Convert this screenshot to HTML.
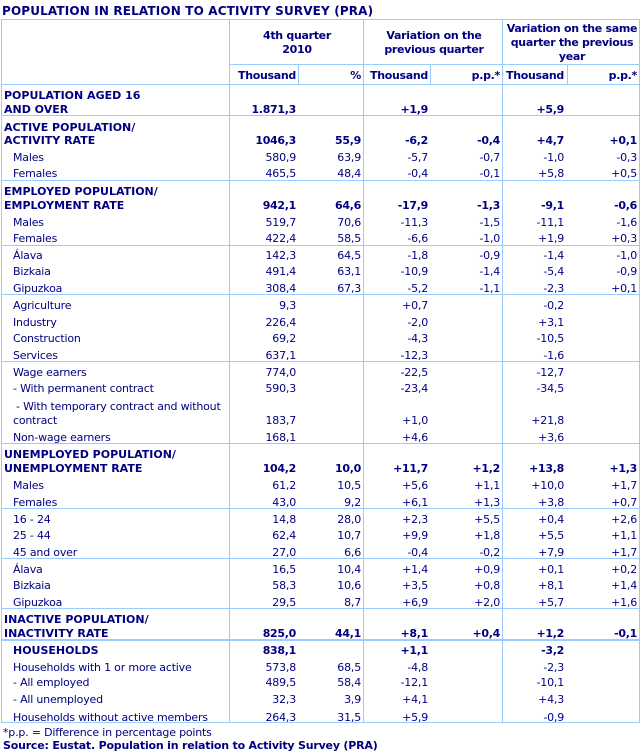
<!DOCTYPE html>
<html>
<head>
<meta charset="utf-8">
<style>
html,body{margin:0;padding:0;background:#fff;}
#c{position:relative;width:643px;height:754px;overflow:hidden;background:#fff;font-family:"DejaVu Sans",Verdana,"Liberation Sans",sans-serif;color:#000080;}
.h{position:absolute;height:1px;background:#99ccff;}
.v{position:absolute;width:1px;background:#99ccff;}
.t{position:absolute;white-space:nowrap;font-size:11px;line-height:13px;height:13px;letter-spacing:-0.2px;}
.b{font-weight:bold;letter-spacing:-0.3px;}
.bc{font-weight:bold;letter-spacing:0;}
.ctr{width:200px;text-align:center;}
.n{text-align:right;}
.c1{right:347px}.c2{right:282px}.c3{right:215px}.c4{right:143px}.c5{right:79px}.c6{right:6px}
.l0{left:4px}.l1{left:13px}
</style>
</head>
<body>
<div id="c">
<!-- title -->
<div class="t" style="left:2px;top:4px;font-size:12px;line-height:14px;height:14px;font-weight:bold;letter-spacing:0.15px;">POPULATION IN RELATION TO ACTIVITY SURVEY (PRA)</div>

<!-- grid lines -->
<div class="h" style="left:1px;width:639px;top:19px"></div>
<div class="h" style="left:229px;width:411px;top:64px"></div>
<div class="h" style="left:1px;width:639px;top:84px"></div>
<div class="h" style="left:1px;width:639px;top:115px"></div>
<div class="h" style="left:1px;width:639px;top:180px"></div>
<div class="h" style="left:1px;width:639px;top:245px"></div>
<div class="h" style="left:1px;width:639px;top:294px"></div>
<div class="h" style="left:1px;width:639px;top:361px"></div>
<div class="h" style="left:1px;width:639px;top:443px"></div>
<div class="h" style="left:1px;width:639px;top:508px"></div>
<div class="h" style="left:1px;width:639px;top:558px"></div>
<div class="h" style="left:1px;width:639px;top:608px"></div>
<div class="h" style="left:1px;width:639px;top:639px;height:2px"></div>
<div class="h" style="left:1px;width:639px;top:722px"></div>

<div class="v" style="left:1px;top:19px;height:704px"></div>
<div class="v" style="left:229px;top:19px;height:704px"></div>
<div class="v" style="left:363px;top:19px;height:704px"></div>
<div class="v" style="left:502px;top:19px;height:704px"></div>
<div class="v" style="left:639px;top:19px;height:704px"></div>
<div class="v" style="left:298px;top:64px;height:20px"></div>
<div class="v" style="left:430px;top:64px;height:20px"></div>
<div class="v" style="left:567px;top:64px;height:20px"></div>

<!-- header -->
<div class="t b ctr" style="left:197px;top:29px">4th quarter</div>
<div class="t b ctr" style="left:197px;top:43px">2010</div>
<div class="t b ctr" style="left:334px;top:29px">Variation on the</div>
<div class="t b ctr" style="left:334px;top:43px">previous quarter</div>
<div class="t b ctr" style="left:472px;top:22px">Variation on the same</div>
<div class="t b ctr" style="left:472px;top:36px">quarter the previous</div>
<div class="t b ctr" style="left:472px;top:50px">year</div>

<div class="t b n c1" style="top:69px">Thousand</div>
<div class="t b n c2" style="top:69px">%</div>
<div class="t b n c3" style="top:69px">Thousand</div>
<div class="t b n c4" style="top:69px">p.p.*</div>
<div class="t b n c5" style="top:69px">Thousand</div>
<div class="t b n c6" style="top:69px">p.p.*</div>

<!-- population 16+ -->
<div class="t bc l0" style="top:89px">POPULATION AGED 16</div>
<div class="t bc l0" style="top:103px">AND OVER</div>
<div class="t b n c1" style="top:103px">1.871,3</div>
<div class="t b n c3" style="top:103px">+1,9</div>
<div class="t b n c5" style="top:103px">+5,9</div>

<!-- active -->
<div class="t bc l0" style="top:121px">ACTIVE POPULATION/</div>
<div class="t bc l0" style="top:134px">ACTIVITY RATE</div>
<div class="t b n c1" style="top:134px">1046,3</div>
<div class="t b n c2" style="top:134px">55,9</div>
<div class="t b n c3" style="top:134px">-6,2</div>
<div class="t b n c4" style="top:134px">-0,4</div>
<div class="t b n c5" style="top:134px">+4,7</div>
<div class="t b n c6" style="top:134px">+0,1</div>

<div class="t l1" style="top:151px">Males</div>
<div class="t n c1" style="top:151px">580,9</div>
<div class="t n c2" style="top:151px">63,9</div>
<div class="t n c3" style="top:151px">-5,7</div>
<div class="t n c4" style="top:151px">-0,7</div>
<div class="t n c5" style="top:151px">-1,0</div>
<div class="t n c6" style="top:151px">-0,3</div>

<div class="t l1" style="top:167px">Females</div>
<div class="t n c1" style="top:167px">465,5</div>
<div class="t n c2" style="top:167px">48,4</div>
<div class="t n c3" style="top:167px">-0,4</div>
<div class="t n c4" style="top:167px">-0,1</div>
<div class="t n c5" style="top:167px">+5,8</div>
<div class="t n c6" style="top:167px">+0,5</div>

<!-- employed -->
<div class="t bc l0" style="top:185px">EMPLOYED POPULATION/</div>
<div class="t bc l0" style="top:199px">EMPLOYMENT RATE</div>
<div class="t b n c1" style="top:199px">942,1</div>
<div class="t b n c2" style="top:199px">64,6</div>
<div class="t b n c3" style="top:199px">-17,9</div>
<div class="t b n c4" style="top:199px">-1,3</div>
<div class="t b n c5" style="top:199px">-9,1</div>
<div class="t b n c6" style="top:199px">-0,6</div>

<div class="t l1" style="top:216px">Males</div>
<div class="t n c1" style="top:216px">519,7</div>
<div class="t n c2" style="top:216px">70,6</div>
<div class="t n c3" style="top:216px">-11,3</div>
<div class="t n c4" style="top:216px">-1,5</div>
<div class="t n c5" style="top:216px">-11,1</div>
<div class="t n c6" style="top:216px">-1,6</div>

<div class="t l1" style="top:232px">Females</div>
<div class="t n c1" style="top:232px">422,4</div>
<div class="t n c2" style="top:232px">58,5</div>
<div class="t n c3" style="top:232px">-6,6</div>
<div class="t n c4" style="top:232px">-1,0</div>
<div class="t n c5" style="top:232px">+1,9</div>
<div class="t n c6" style="top:232px">+0,3</div>

<div class="t l1" style="top:249px">Álava</div>
<div class="t n c1" style="top:249px">142,3</div>
<div class="t n c2" style="top:249px">64,5</div>
<div class="t n c3" style="top:249px">-1,8</div>
<div class="t n c4" style="top:249px">-0,9</div>
<div class="t n c5" style="top:249px">-1,4</div>
<div class="t n c6" style="top:249px">-1,0</div>

<div class="t l1" style="top:265px">Bizkaia</div>
<div class="t n c1" style="top:265px">491,4</div>
<div class="t n c2" style="top:265px">63,1</div>
<div class="t n c3" style="top:265px">-10,9</div>
<div class="t n c4" style="top:265px">-1,4</div>
<div class="t n c5" style="top:265px">-5,4</div>
<div class="t n c6" style="top:265px">-0,9</div>

<div class="t l1" style="top:282px">Gipuzkoa</div>
<div class="t n c1" style="top:282px">308,4</div>
<div class="t n c2" style="top:282px">67,3</div>
<div class="t n c3" style="top:282px">-5,2</div>
<div class="t n c4" style="top:282px">-1,1</div>
<div class="t n c5" style="top:282px">-2,3</div>
<div class="t n c6" style="top:282px">+0,1</div>

<!-- sectors -->
<div class="t l1" style="top:299px">Agriculture</div>
<div class="t n c1" style="top:299px">9,3</div>
<div class="t n c3" style="top:299px">+0,7</div>
<div class="t n c5" style="top:299px">-0,2</div>

<div class="t l1" style="top:316px">Industry</div>
<div class="t n c1" style="top:316px">226,4</div>
<div class="t n c3" style="top:316px">-2,0</div>
<div class="t n c5" style="top:316px">+3,1</div>

<div class="t l1" style="top:332px">Construction</div>
<div class="t n c1" style="top:332px">69,2</div>
<div class="t n c3" style="top:332px">-4,3</div>
<div class="t n c5" style="top:332px">-10,5</div>

<div class="t l1" style="top:349px">Services</div>
<div class="t n c1" style="top:349px">637,1</div>
<div class="t n c3" style="top:349px">-12,3</div>
<div class="t n c5" style="top:349px">-1,6</div>

<!-- wage -->
<div class="t l1" style="top:366px">Wage earners</div>
<div class="t n c1" style="top:366px">774,0</div>
<div class="t n c3" style="top:366px">-22,5</div>
<div class="t n c5" style="top:366px">-12,7</div>

<div class="t l1" style="top:382px">- With permanent contract</div>
<div class="t n c1" style="top:382px">590,3</div>
<div class="t n c3" style="top:382px">-23,4</div>
<div class="t n c5" style="top:382px">-34,5</div>

<div class="t" style="left:16px;top:400px">- With temporary contract and without</div>
<div class="t l1" style="top:414px">contract</div>
<div class="t n c1" style="top:414px">183,7</div>
<div class="t n c3" style="top:414px">+1,0</div>
<div class="t n c5" style="top:414px">+21,8</div>

<div class="t l1" style="top:431px">Non-wage earners</div>
<div class="t n c1" style="top:431px">168,1</div>
<div class="t n c3" style="top:431px">+4,6</div>
<div class="t n c5" style="top:431px">+3,6</div>

<!-- unemployed -->
<div class="t bc l0" style="top:448px">UNEMPLOYED POPULATION/</div>
<div class="t bc l0" style="top:462px">UNEMPLOYMENT RATE</div>
<div class="t b n c1" style="top:462px">104,2</div>
<div class="t b n c2" style="top:462px">10,0</div>
<div class="t b n c3" style="top:462px">+11,7</div>
<div class="t b n c4" style="top:462px">+1,2</div>
<div class="t b n c5" style="top:462px">+13,8</div>
<div class="t b n c6" style="top:462px">+1,3</div>

<div class="t l1" style="top:479px">Males</div>
<div class="t n c1" style="top:479px">61,2</div>
<div class="t n c2" style="top:479px">10,5</div>
<div class="t n c3" style="top:479px">+5,6</div>
<div class="t n c4" style="top:479px">+1,1</div>
<div class="t n c5" style="top:479px">+10,0</div>
<div class="t n c6" style="top:479px">+1,7</div>

<div class="t l1" style="top:496px">Females</div>
<div class="t n c1" style="top:496px">43,0</div>
<div class="t n c2" style="top:496px">9,2</div>
<div class="t n c3" style="top:496px">+6,1</div>
<div class="t n c4" style="top:496px">+1,3</div>
<div class="t n c5" style="top:496px">+3,8</div>
<div class="t n c6" style="top:496px">+0,7</div>

<div class="t l1" style="top:513px">16 - 24</div>
<div class="t n c1" style="top:513px">14,8</div>
<div class="t n c2" style="top:513px">28,0</div>
<div class="t n c3" style="top:513px">+2,3</div>
<div class="t n c4" style="top:513px">+5,5</div>
<div class="t n c5" style="top:513px">+0,4</div>
<div class="t n c6" style="top:513px">+2,6</div>

<div class="t l1" style="top:529px">25 - 44</div>
<div class="t n c1" style="top:529px">62,4</div>
<div class="t n c2" style="top:529px">10,7</div>
<div class="t n c3" style="top:529px">+9,9</div>
<div class="t n c4" style="top:529px">+1,8</div>
<div class="t n c5" style="top:529px">+5,5</div>
<div class="t n c6" style="top:529px">+1,1</div>

<div class="t l1" style="top:546px">45 and over</div>
<div class="t n c1" style="top:546px">27,0</div>
<div class="t n c2" style="top:546px">6,6</div>
<div class="t n c3" style="top:546px">-0,4</div>
<div class="t n c4" style="top:546px">-0,2</div>
<div class="t n c5" style="top:546px">+7,9</div>
<div class="t n c6" style="top:546px">+1,7</div>

<div class="t l1" style="top:563px">Álava</div>
<div class="t n c1" style="top:563px">16,5</div>
<div class="t n c2" style="top:563px">10,4</div>
<div class="t n c3" style="top:563px">+1,4</div>
<div class="t n c4" style="top:563px">+0,9</div>
<div class="t n c5" style="top:563px">+0,1</div>
<div class="t n c6" style="top:563px">+0,2</div>

<div class="t l1" style="top:579px">Bizkaia</div>
<div class="t n c1" style="top:579px">58,3</div>
<div class="t n c2" style="top:579px">10,6</div>
<div class="t n c3" style="top:579px">+3,5</div>
<div class="t n c4" style="top:579px">+0,8</div>
<div class="t n c5" style="top:579px">+8,1</div>
<div class="t n c6" style="top:579px">+1,4</div>

<div class="t l1" style="top:596px">Gipuzkoa</div>
<div class="t n c1" style="top:596px">29,5</div>
<div class="t n c2" style="top:596px">8,7</div>
<div class="t n c3" style="top:596px">+6,9</div>
<div class="t n c4" style="top:596px">+2,0</div>
<div class="t n c5" style="top:596px">+5,7</div>
<div class="t n c6" style="top:596px">+1,6</div>

<!-- inactive -->
<div class="t bc l0" style="top:613px">INACTIVE POPULATION/</div>
<div class="t bc l0" style="top:627px">INACTIVITY RATE</div>
<div class="t b n c1" style="top:627px">825,0</div>
<div class="t b n c2" style="top:627px">44,1</div>
<div class="t b n c3" style="top:627px">+8,1</div>
<div class="t b n c4" style="top:627px">+0,4</div>
<div class="t b n c5" style="top:627px">+1,2</div>
<div class="t b n c6" style="top:627px">-0,1</div>

<!-- households -->
<div class="t bc l1" style="top:644px">HOUSEHOLDS</div>
<div class="t b n c1" style="top:644px">838,1</div>
<div class="t b n c3" style="top:644px">+1,1</div>
<div class="t b n c5" style="top:644px">-3,2</div>

<div class="t l1" style="top:661px">Households with 1 or more active</div>
<div class="t n c1" style="top:661px">573,8</div>
<div class="t n c2" style="top:661px">68,5</div>
<div class="t n c3" style="top:661px">-4,8</div>
<div class="t n c5" style="top:661px">-2,3</div>

<div class="t l1" style="top:676px">- All employed</div>
<div class="t n c1" style="top:676px">489,5</div>
<div class="t n c2" style="top:676px">58,4</div>
<div class="t n c3" style="top:676px">-12,1</div>
<div class="t n c5" style="top:676px">-10,1</div>

<div class="t l1" style="top:693px">- All unemployed</div>
<div class="t n c1" style="top:693px">32,3</div>
<div class="t n c2" style="top:693px">3,9</div>
<div class="t n c3" style="top:693px">+4,1</div>
<div class="t n c5" style="top:693px">+4,3</div>

<div class="t l1" style="top:711px">Households without active members</div>
<div class="t n c1" style="top:711px">264,3</div>
<div class="t n c2" style="top:711px">31,5</div>
<div class="t n c3" style="top:711px">+5,9</div>
<div class="t n c5" style="top:711px">-0,9</div>

<!-- footnotes -->
<div class="t" style="left:3px;top:726px">*p.p. = Difference in percentage points</div>
<div class="t" style="left:3px;top:739px;font-weight:bold;letter-spacing:-0.2px">Source: Eustat. Population in relation to Activity Survey (PRA)</div>
</div>
</body>
</html>
